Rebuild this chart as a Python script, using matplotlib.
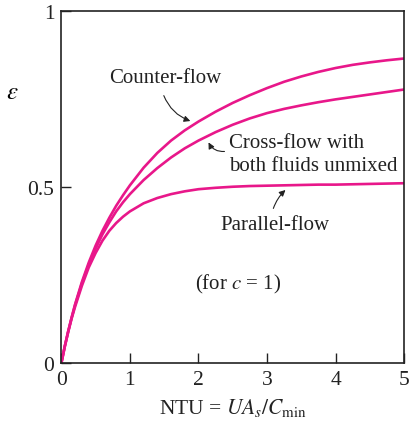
import matplotlib
matplotlib.use("Agg")
import matplotlib.pyplot as plt

# NTU values and effectiveness (c = 1)
ntu = [0, 0.05, 0.1, 0.15, 0.2, 0.3, 0.4, 0.5, 0.6, 0.7, 0.8, 0.9, 1.0,
       1.2, 1.4, 1.6, 1.8, 2.0, 2.25, 2.5, 2.75, 3.0, 3.25, 3.5, 3.75,
       4.0, 4.25, 4.5, 4.75, 5.0]
counter = [0, 0.048, 0.091, 0.13, 0.167, 0.231, 0.286, 0.334, 0.376, 0.413,
           0.447, 0.477, 0.505, 0.555, 0.597, 0.632, 0.661, 0.686, 0.714,
           0.739, 0.761, 0.781, 0.799, 0.814, 0.827, 0.838, 0.847, 0.854,
           0.86, 0.865]
cross = [0, 0.048, 0.09, 0.129, 0.165, 0.227, 0.28, 0.326, 0.366, 0.4,
         0.431, 0.457, 0.48, 0.52, 0.554, 0.584, 0.61, 0.632, 0.656, 0.677,
         0.695, 0.71, 0.722, 0.732, 0.741, 0.749, 0.756, 0.763, 0.77, 0.777]
parallel = [0, 0.047, 0.089, 0.127, 0.16, 0.22, 0.272, 0.313, 0.348, 0.376,
            0.398, 0.416, 0.431, 0.454, 0.469, 0.48, 0.488, 0.494, 0.498,
            0.501, 0.503, 0.504, 0.505, 0.506, 0.507, 0.507, 0.508, 0.509,
            0.51, 0.511]

xticks = [0, 1, 2, 3, 4, 5]
yticks = [0, 0.5, 1]
yticklabels = ["0", "0.5", "1"]

plt.rcParams['font.family'] = ['Liberation Serif', 'DejaVu Serif']
plt.rcParams['mathtext.fontset'] = 'stix'

col = '#e8178a'
fig = plt.figure(figsize=(4.09, 4.27), dpi=100)
ax = fig.add_axes([0.150, 0.147, 0.838, 0.825])

for y in (counter, cross, parallel):
    ax.plot(ntu, y, color=col, lw=1.9, solid_capstyle='round')

ax.set_xlim(0, 5)
ax.set_ylim(0, 1)
ax.set_xticks(xticks)
ax.set_yticks(yticks)
ax.set_yticklabels(yticklabels)
ax.tick_params(direction='in', length=7, width=1, labelsize=15.5, colors='#222222')
ax.tick_params(axis='x', pad=5)
ax.tick_params(axis='y', pad=5)
for s in ax.spines.values():
    s.set_linewidth(1.2)
    s.set_color('#222222')

ax.set_xlabel(r'NTU = $UA_s/C_{\rm min}$', fontsize=15.5, labelpad=5, color='#222222')
fig.text(0.03, 0.782, r'$\varepsilon$', fontsize=18, ha='center', va='center')

tc = '#222222'
fs = 15
ax.text(0.70, 0.812, 'Counter-flow', fontsize=fs, va='center', color=tc)
ax.text(2.45, 0.626, 'Cross-flow with', fontsize=fs, va='center', color=tc)
ax.text(2.45, 0.561, 'both fluids unmixed', fontsize=fs, va='center', color=tc)
ax.text(2.32, 0.394, 'Parallel-flow', fontsize=fs, va='center', color=tc)
ax.text(1.95, 0.226, r'(for $c$ = 1)', fontsize=fs, va='center', color=tc)

arr = dict(arrowstyle='-|>', color='#222222', lw=0.8, mutation_scale=9)
ax.annotate('', xy=(1.92, 0.685), xytext=(1.48, 0.767),
            arrowprops=dict(arr, connectionstyle='arc3,rad=0.25'))
ax.annotate('', xy=(2.13, 0.634), xytext=(2.42, 0.602),
            arrowprops=dict(arr, connectionstyle='arc3,rad=-0.4'))
ax.annotate('', xy=(3.30, 0.497), xytext=(3.08, 0.432),
            arrowprops=dict(arr, connectionstyle='arc3,rad=-0.15'))

fig.savefig('out.png', dpi=100)
